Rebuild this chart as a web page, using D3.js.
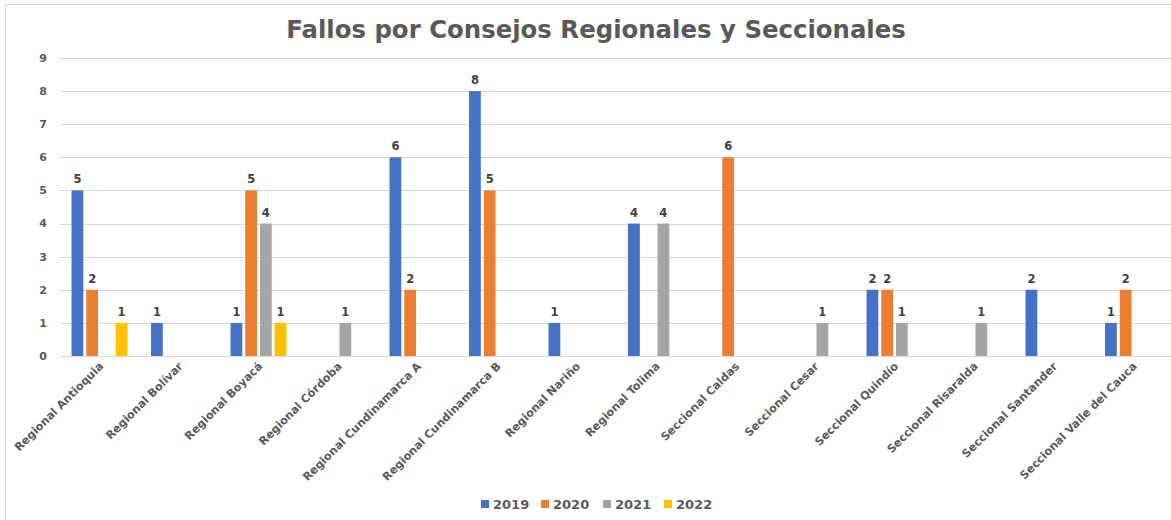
<!DOCTYPE html>
<html><head><meta charset="utf-8">
<script src="https://cdn.jsdelivr.net/npm/d3@7"></script>
<style>
html,body{margin:0;padding:0;background:#fff;}
svg{display:block;font-family:"DejaVu Sans",Verdana,sans-serif;}
</style></head>
<body>
<svg id="chart" width="1171" height="520"></svg>
<script>
const categories = ["Regional Antioquia","Regional Bolívar","Regional Boyacá","Regional Córdoba","Regional Cundinamarca A","Regional Cundinamarca B","Regional Nariño","Regional Tolima","Seccional Caldas","Seccional Cesar","Seccional Quindío","Seccional Risaralda","Seccional Santander","Seccional Valle del Cauca"];
const years = ["2019","2020","2021","2022"];
const v2019 = [5,1,1,null,6,8,1,4,null,null,2,null,2,1];
const v2020 = [2,null,5,null,2,5,null,null,6,null,2,null,null,2];
const v2021 = [null,null,4,1,null,null,null,4,null,1,1,1,null,null];
const v2022 = [1,null,1,null,null,null,null,null,null,null,null,null,null,null];
const yTicks = [0,1,2,3,4,5,6,7,8,9];
const colors = ["#4472C4","#ED7D31","#A5A5A5","#FFC000"];
const title = "Fallos por Consejos Regionales y Seccionales";

(function(){
const series = [v2019,v2020,v2021,v2022];
const svg = d3.select("#chart");

// frame
svg.append("rect").attr("x",5.5).attr("y",4.5).attr("width",1200).attr("height",600)
  .attr("fill","none").attr("stroke","#d9d9d9").attr("stroke-width",1);

const pLeft = 59.25, pRight = 1172.25, pTop = 58, pBottom = 356;
const x = d3.scaleBand().domain(categories).range([pLeft,pRight]).paddingInner(0).paddingOuter(0);
const inner = d3.scaleBand().domain(years).range([0,x.bandwidth()]).paddingInner(0.2).paddingOuter(0.8);
const y = d3.scaleLinear().domain([0,9]).range([pBottom,pTop]);

// gridlines
svg.append("g").selectAll("line").data(yTicks).join("line")
  .attr("x1",pLeft).attr("x2",1171).attr("y1",d=>Math.round(y(d))+0.5).attr("y2",d=>Math.round(y(d))+0.5)
  .attr("stroke","#d9d9d9").attr("stroke-width",1);

// y tick labels
svg.append("g").selectAll("text").data(yTicks).join("text")
  .attr("x",47).attr("y",d=>y(d)).attr("dy","0.35em").attr("text-anchor","end")
  .attr("font-size",11).attr("font-weight","bold").attr("fill","#595959").text(d=>d);

// bars
const g = svg.append("g");
series.forEach((vals,si)=>{
  const data = categories.map((c,i)=>({c,v:vals[i]})).filter(d=>d.v!=null);
  g.append("g").selectAll("rect").data(data).join("rect")
    .attr("x",d=>x(d.c)+inner(years[si])+0.5)
    .attr("width",inner.bandwidth())
    .attr("y",d=>y(d.v)).attr("height",d=>y(0)-y(d.v))
    .attr("fill",colors[si]);
  g.append("g").selectAll("text").data(data).join("text")
    .attr("x",d=>x(d.c)+inner(years[si])+inner.bandwidth()/2+0.5)
    .attr("y",d=>y(d.v)-7)
    .attr("text-anchor","middle").attr("font-size",11.5).attr("font-weight","bold")
    .attr("fill","#404040").text(d=>d.v);
});

// x labels
svg.append("g").selectAll("text").data(categories).join("text")
  .attr("transform",d=>`translate(${x(d)+x.bandwidth()/2+5},367) rotate(-45)`)
  .attr("text-anchor","end").attr("font-size",11.2).attr("font-weight","bold")
  .attr("fill","#595959").text(d=>d);

// title
svg.append("text").attr("x",596).attr("y",38).attr("text-anchor","middle")
  .attr("font-size",24.4).attr("font-weight","bold").attr("fill","#595959").text(title);

// legend
const legX = [481,541,603,664];
const lg = svg.append("g");
years.forEach((yr,i)=>{
  lg.append("rect").attr("x",legX[i]).attr("y",500).attr("width",8).attr("height",8).attr("fill",colors[i]);
  lg.append("text").attr("x",legX[i]+12).attr("y",509).attr("font-size",13).attr("font-weight","bold")
    .attr("fill","#595959").text(yr);
});
})();
</script>
</body></html>
